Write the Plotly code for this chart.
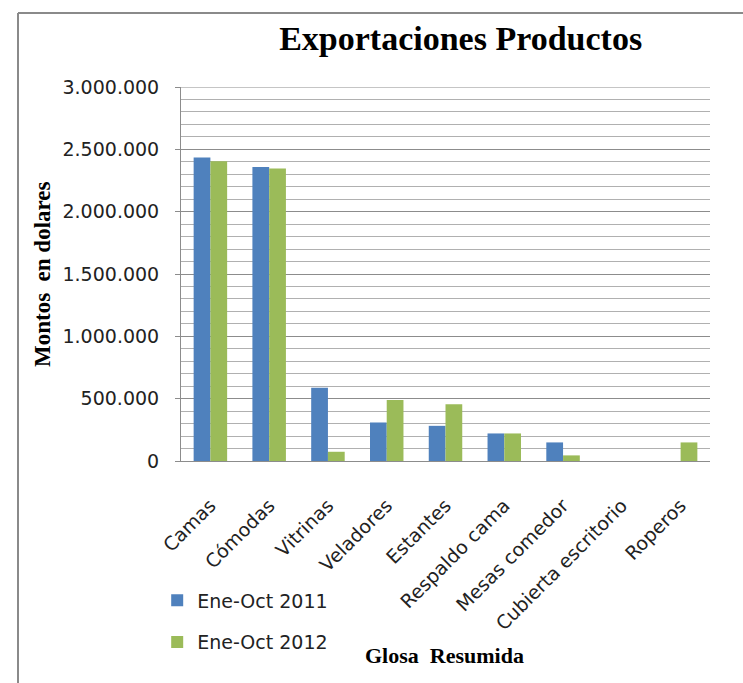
import plotly.graph_objects as go

categories = ["Camas", "Cómodas", "Vitrinas", "Veladores", "Estantes",
              "Respaldo cama", "Mesas comedor", "Cubierta escritorio", "Roperos"]
ene_oct_2011 = [2434000, 2359000, 588000, 309000, 282000, 221000, 149000, 0, 0]
ene_oct_2012 = [2404000, 2346000, 74000, 489000, 455000, 221000, 45000, 0, 149000]
series_names = ["Ene-Oct 2011", "Ene-Oct 2012"]
y_ticks = [0, 500000, 1000000, 1500000, 2000000, 2500000, 3000000]

BLUE = "#4F81BD"
GREEN = "#9BBB59"
SANS = "DejaVu Sans"
SERIF = "Liberation Serif"
GRID = "#8c8c8c"

fig = go.Figure()
fig.add_trace(go.Bar(x=categories, y=ene_oct_2011, name=series_names[0],
                     marker=dict(color=BLUE, line=dict(width=0)), legendgroup="a"))
fig.add_trace(go.Bar(x=categories, y=ene_oct_2012, name=series_names[1],
                     marker=dict(color=GREEN, line=dict(width=0)), legendgroup="b"))

fig.update_layout(
    width=743, height=683,
    template="none",
    separators=",.",
    paper_bgcolor="white", plot_bgcolor="white",
    margin=dict(l=181, r=33, t=87, b=222, pad=0),
    barmode="group", bargap=0.43, bargroupgap=0,
    title=dict(text="<b>Exportaciones Productos</b>", x=0.62, xanchor="center",
               y=1 - 38 / 683, yanchor="middle",
               font=dict(family=SERIF, size=34, color="black")),
    legend=dict(x=-0.045, xanchor="left", y=-0.322, yanchor="top",
                orientation="v", traceorder="grouped", tracegroupgap=14,
                font=dict(family=SANS, size=19, color="#222"),
                bgcolor="rgba(0,0,0,0)"),
    showlegend=True,
)

fig.update_yaxes(
    range=[0, 3000000], tickvals=y_ticks, tickformat=",.0f",
    showgrid=True, gridcolor=GRID, gridwidth=1,
    minor=dict(dtick=100000, showgrid=True, gridcolor="#b0b0b0", gridwidth=1,
               ticks=""),
    showline=True, linecolor=GRID, linewidth=1,
    ticks="outside", ticklen=5, tickcolor=GRID,
    ticklabelstandoff=12,
    tickfont=dict(family=SANS, size=19, color="#222"),
    automargin=False, zeroline=False,
)
fig.update_xaxes(
    tickangle=-45, showgrid=False, showline=True, linecolor=GRID, linewidth=1,
    ticks="", ticklabelstandoff=25,
    tickfont=dict(family=SANS, size=19, color="#222"),
    automargin=False,
)

# top gridline at the axis maximum (Plotly drops the gridline on the plot edge)
fig.add_shape(type="line", xref="paper", yref="y", x0=0, x1=1,
              y0=y_ticks[-1], y1=y_ticks[-1], line=dict(color=GRID, width=1))

fig.add_annotation(text="<b>Montos  en dolares</b>", xref="paper", yref="paper",
                   x=(42 - 181) / 529, y=(461 - 274) / 374, xanchor="center", yanchor="middle",
                   textangle=-90, showarrow=False,
                   font=dict(family=SERIF, size=23, color="black"))
fig.add_annotation(text="<b>Glosa  Resumida</b>", xref="paper", yref="paper",
                   x=(444 - 181) / 529, y=(461 - 655) / 374, xanchor="center", yanchor="middle",
                   showarrow=False,
                   font=dict(family=SERIF, size=22, color="black"))

# outer chart frame (top and left edges)
fx0 = (18 - 181) / 529
fy0 = (461 - 13) / 374
fig.add_shape(type="line", xref="paper", yref="paper", x0=fx0, x1=(745 - 181) / 529,
              y0=fy0, y1=fy0, line=dict(color="#8a8a8a", width=2))
fig.add_shape(type="line", xref="paper", yref="paper", x0=fx0, x1=fx0,
              y0=fy0, y1=(461 - 690) / 374, line=dict(color="#8a8a8a", width=2))

fig.write_html("out.html")
